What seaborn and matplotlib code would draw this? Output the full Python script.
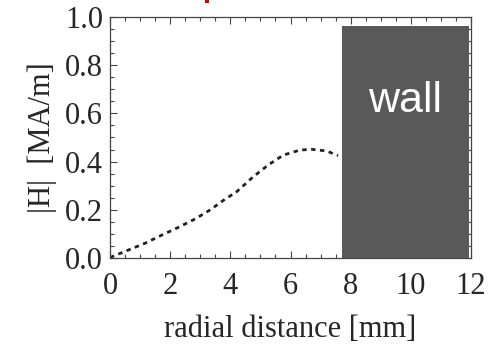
import matplotlib
matplotlib.use("Agg")
import matplotlib.pyplot as plt
import seaborn as sns
import pandas as pd
from matplotlib.ticker import MultipleLocator
from matplotlib.patches import Rectangle

# data
radial_mm = [0.0, 0.06, 0.61, 1.16, 1.72, 2.27, 2.83, 3.32, 3.79, 4.21, 4.76,
             5.26, 5.76, 6.32, 6.70, 7.20, 7.58]
h_field = [0.003, 0.005, 0.033, 0.061, 0.095, 0.127, 0.162, 0.199, 0.241, 0.275,
           0.337, 0.386, 0.427, 0.448, 0.451, 0.444, 0.425]
wall_start = [7.70]
wall_end = [11.93]
wall_height = [0.963]
x_ticks = [0, 2, 4, 6, 8, 10, 12]
y_ticks = [0.0, 0.2, 0.4, 0.6, 0.8, 1.0]

sns.set_style("ticks")
plt.rcParams['font.family'] = ['Liberation Serif', 'DejaVu Serif']

fig = plt.figure(figsize=(4.98, 3.45), dpi=100)
ax = fig.add_axes([0.2209, 0.2522, 0.7249, 0.6985])

df = pd.DataFrame({"r": radial_mm, "H": h_field})
sns.lineplot(data=df, x="r", y="H", ax=ax, color="#222222", lw=2.0,
             linestyle=(0, (1.6, 1.6)))

ax.bar(wall_start, wall_height, width=[e - s for s, e in zip(wall_start, wall_end)],
       align="edge", color="#595959", edgecolor="none", zorder=3)
ax.text((wall_start[0] + wall_end[0]) / 2, 0.606, "wall", color="white",
        family="Liberation Sans", fontsize=31, ha="center", va="baseline", zorder=4)

ax.set_xlim(0, 12)
ax.set_ylim(0, 1.0)
ax.set_xticks(x_ticks)
ax.set_yticks(y_ticks)
ax.set_xticklabels([str(t) for t in x_ticks])
ax.set_yticklabels([f"{t:.1f}" for t in y_ticks])
ax.xaxis.set_minor_locator(MultipleLocator(0.5))
ax.yaxis.set_minor_locator(MultipleLocator(0.05))
ax.tick_params(which="both", direction="in", top=True, right=True, color="#444444", width=0.8)
ax.tick_params(which="major", length=5, labelsize=22)
ax.tick_params(which="minor", length=3)
ax.tick_params(axis="x", which="major", pad=10)
ax.tick_params(axis="y", which="major", pad=5)
for s in ax.spines.values():
    s.set_color("#444444")
    s.set_linewidth(0.9)

ax.set_xlabel("radial distance [mm]", fontsize=22, labelpad=10)
ax.set_ylabel("|H|  [MA/m]", fontsize=22, labelpad=6)

# small red fragment of a clipped title at the very top edge
fig.patches.append(Rectangle((205 / 498, 1 - 3 / 345), 4 / 498, 3 / 345,
                             transform=fig.transFigure, color="#e00000", lw=0))

fig.savefig("out.png", dpi=100)
